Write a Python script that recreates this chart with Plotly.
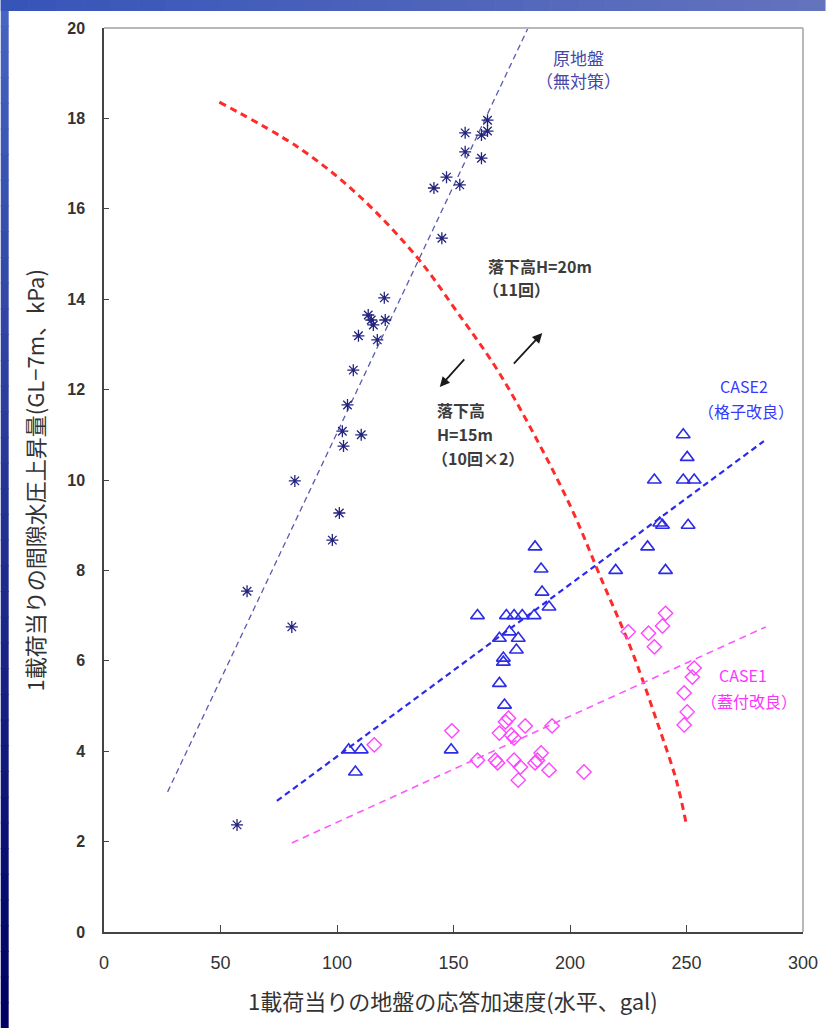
import plotly.graph_objects as go

# ---------------- data ----------------
genjiban_x = [57.1, 61.4, 80.6, 81.9, 98.0, 101.0, 102.8, 102.3, 110.4, 104.5, 107.0, 109.2,
              117.3, 113.4, 114.7, 115.6, 120.7, 120.3, 145.0, 141.6, 147.0, 152.7, 155.0,
              155.0, 162.0, 162.0, 164.6, 164.6]
genjiban_y = [2.37, 7.54, 6.75, 9.98, 8.67, 9.27, 10.75, 11.08, 11.0, 11.66, 12.43, 13.19,
              13.1, 13.65, 13.54, 13.43, 13.54, 14.03, 15.35, 16.46, 16.7, 16.53, 17.26,
              17.68, 17.12, 17.63, 17.72, 17.96]

case2_x = [248.6, 250.3, 236.2, 248.6, 253.3, 239.7, 238.5, 250.7, 233.3, 219.6, 241.0, 185.0,
           187.6, 188.0, 191.0, 160.3, 172.7, 176.0, 179.5, 184.6, 174.0, 169.7, 177.8,
           177.0, 171.4, 171.4, 169.7, 171.9, 149.0, 105.0, 110.4, 107.9]
case2_y = [11.0, 10.5, 10.0, 10.0, 10.0, 9.0, 9.05, 9.0, 8.52, 8.0, 8.0, 8.52,
           8.03, 7.52, 7.19, 7.0, 7.0, 7.0, 7.0, 7.0, 6.64, 6.5, 6.5,
           6.24, 6.06, 5.97, 5.5, 5.02, 4.03, 4.03, 4.03, 3.54]

case1_x = [116.0, 241.0, 239.7, 225.0, 233.7, 236.2, 253.3, 252.5, 249.0, 250.3, 249.0,
           149.3, 173.6, 172.3, 180.8, 192.3, 169.7, 174.8, 176.0, 160.3, 168.0, 168.9,
           176.0, 178.7, 185.0, 187.6, 186.0, 191.0, 206.0, 177.8]
case1_y = [4.14, 7.05, 6.77, 6.64, 6.61, 6.31, 5.84, 5.64, 5.29, 4.87, 4.58,
           4.45, 4.73, 4.65, 4.56, 4.56, 4.4, 4.36, 4.29, 3.8, 3.8, 3.74,
           3.8, 3.65, 3.74, 3.96, 3.8, 3.58, 3.54, 3.36]

# trend lines
genjiban_fit_x = [27.3, 182.0]
genjiban_fit_y = [3.1, 20.0]
case2_fit_x = [74.2, 283.2]
case2_fit_y = [2.9, 10.86]
case1_fit_x = [80.6, 284.0]
case1_fit_y = [1.97, 6.75]

# boundary curve (red)
boundary_x = [49.5, 83.6, 109.2, 134.8, 151.8, 168.9, 185.9, 200.9, 213.6, 226.4, 237.1, 245.6, 249.9]
boundary_y = [18.36, 17.35, 16.3, 14.9, 13.7, 12.43, 10.88, 9.34, 7.79, 6.24, 4.69, 3.36, 2.39]

x_ticks = [0, 50, 100, 150, 200, 250, 300]
y_ticks = [0, 2, 4, 6, 8, 10, 12, 14, 16, 18, 20]

x_title = "1載荷当りの地盤の応答加速度(水平、gal)"
y_title = "1載荷当りの間隙水圧上昇量(GL−7m、kPa)"

# arrows: (tail_x, tail_y, head_x, head_y)
arrow_down = (155.2, 12.7, 144.1, 12.06)
arrow_up = (175.3, 12.54, 188.1, 13.25)

JP = "Noto Sans CJK JP"

fig = go.Figure()

# --------------- frame / background ---------------
shapes = []
# left gradient band
n = 40
H = 1028
for i in range(n):
    t = i / (n - 1)
    r = int(70 * (1 - t) + 0 * t)
    g = int(100 * (1 - t) + 0 * t)
    b = int(195 * (1 - t) + 100 * t)
    shapes.append(dict(type="rect", xref="paper", yref="paper",
                       x0=-104 / 704, x1=-96 / 704,
                       y0=1 + 28 / 904 - (i + 1) * H / n / 904 - 0.001,
                       y1=1 + 28 / 904 - i * H / n / 904,
                       fillcolor=f"rgb({r},{g},{b})", line_width=0, layer="below"))
# top gradient band
m = 30
W = 830
for i in range(m):
    t = i / (m - 1)
    r = int(55 * (1 - t) + 100 * t)
    g = int(85 * (1 - t) + 115 * t)
    b = int(185 * (1 - t) + 190 * t)
    shapes.append(dict(type="rect", xref="paper", yref="paper",
                       x0=-104 / 704 + i * W / m / 704,
                       x1=-104 / 704 + (i + 1) * W / m / 704 + 0.001,
                       y0=1 + 17 / 904, y1=1 + 28 / 904,
                       fillcolor=f"rgb({r},{g},{b})", line_width=0, layer="below"))
# top & right grey frame of plot area
shapes.append(dict(type="line", xref="paper", yref="paper", x0=0, x1=1, y0=1, y1=1,
                   line=dict(color="#b8b8b8", width=2)))
shapes.append(dict(type="line", xref="paper", yref="paper", x0=1, x1=1, y0=0, y1=1,
                   line=dict(color="#b8b8b8", width=2)))

# --------------- traces ---------------
fig.add_trace(go.Scatter(x=boundary_x, y=boundary_y, mode="lines", line_shape="spline",
                         line=dict(color="#ff2a2a", width=3, dash="7px,5px"),
                         showlegend=False, hoverinfo="skip"))
fig.add_trace(go.Scatter(x=genjiban_fit_x, y=genjiban_fit_y, mode="lines",
                         line=dict(color="#5a5ab0", width=1.3, dash="6px,4px"),
                         showlegend=False))
fig.add_trace(go.Scatter(x=case2_fit_x, y=case2_fit_y, mode="lines",
                         line=dict(color="#2a2aee", width=2.2, dash="6px,4px"),
                         showlegend=False))
fig.add_trace(go.Scatter(x=case1_fit_x, y=case1_fit_y, mode="lines",
                         line=dict(color="#ff55ff", width=1.6, dash="7px,5px"),
                         showlegend=False))

fig.add_trace(go.Scatter(x=genjiban_x, y=genjiban_y, mode="markers", name="原地盤",
                         marker=dict(symbol="asterisk-open", size=10, color="#23237e",
                                     line=dict(color="#23237e", width=1.3)),
                         showlegend=False))
fig.add_trace(go.Scatter(x=case2_x, y=case2_y, mode="markers", name="CASE2",
                         marker=dict(symbol="triangle-up-open", size=12, color="#2c2ce6",
                                     line=dict(color="#2c2ce6", width=1.6)),
                         showlegend=False))
fig.add_trace(go.Scatter(x=case1_x, y=case1_y, mode="markers", name="CASE1",
                         marker=dict(symbol="diamond-open", size=11, color="#ff44ff",
                                     line=dict(color="#ff44ff", width=1.4)),
                         showlegend=False))

# --------------- annotations ---------------
ann = []


def txt(x, y, s, color, size=16, xanchor="left", weight="bold"):
    ann.append(dict(x=x, y=y, xref="x", yref="y", text=s, showarrow=False,
                    xanchor=xanchor, yanchor="middle",
                    font=dict(family=JP, size=size, color=color, weight=weight)))


txt(163.8, 14.73, "落下高H=20m", "#3c3c3c")
txt(162.0, 14.22, "（11回）", "#3c3c3c")
txt(142.0, 11.55, "落下高", "#3c3c3c")
txt(142.0, 11.02, "H=15m", "#3c3c3c")
txt(140.0, 10.49, "（10回×2）", "#3c3c3c")
txt(203.8, 19.34, "原地盤", "#4646a8", size=17, xanchor="center", weight="normal")
txt(203.8, 18.83, "（無対策）", "#4646a8", size=17, xanchor="center", weight="normal")
txt(274.6, 12.09, "CASE2", "#3838ff", size=16, xanchor="center", weight="normal")
txt(275.4, 11.52, "（格子改良）", "#3838ff", size=16, xanchor="center", weight="normal")
txt(274.2, 5.69, "CASE1", "#ff33ff", size=16, xanchor="center", weight="normal")
txt(277.0, 5.12, "（蓋付改良）", "#ff33ff", size=16, xanchor="center", weight="normal")

for (tx, ty, hx, hy) in (arrow_down, arrow_up):
    ann.append(dict(x=hx, y=hy, ax=tx, ay=ty, xref="x", yref="y", axref="x", ayref="y",
                    showarrow=True, arrowhead=2, arrowsize=1.1, arrowwidth=1.8,
                    arrowcolor="#1a1a1a", text=""))

ann.append(dict(x=(455 - 104) / 704, y=(932 - 1000) / 904, xref="paper", yref="paper",
                text=x_title, showarrow=False, xanchor="center", yanchor="middle",
                font=dict(family=JP, size=22, color="#333333")))
ann.append(dict(x=(33 - 104) / 704, y=0.5 - 1 / 904, xref="paper", yref="paper",
                text=y_title, showarrow=False, textangle=-90,
                xanchor="center", yanchor="middle",
                font=dict(family=JP, size=22, color="#333333")))

fig.update_layout(
    width=830, height=1028,
    margin=dict(l=104, r=22, t=28, b=96, pad=0),
    paper_bgcolor="white", plot_bgcolor="white",
    shapes=shapes, annotations=ann,
    xaxis=dict(range=[0, 300], tickvals=x_ticks, ticktext=[str(v) for v in x_ticks],
               showgrid=False, zeroline=False, showline=True, linecolor="#444444",
               linewidth=1.5, ticks="inside", ticklen=7, tickcolor="#444444",
               tickfont=dict(family="Liberation Sans Narrow, Liberation Sans", size=18,
                             color="#333333"),
               ticklabelstandoff=14),
    yaxis=dict(range=[0, 20], tickvals=y_ticks, ticktext=[str(v) for v in y_ticks],
               showgrid=False, zeroline=False, showline=True, linecolor="#444444",
               linewidth=1.5, ticks="inside", ticklen=5, tickcolor="#444444",
               tickfont=dict(family="Liberation Sans", size=16, color="#333333",
                             weight="bold"),
               ticklabelstandoff=14),
)

fig.write_html("out.html")
